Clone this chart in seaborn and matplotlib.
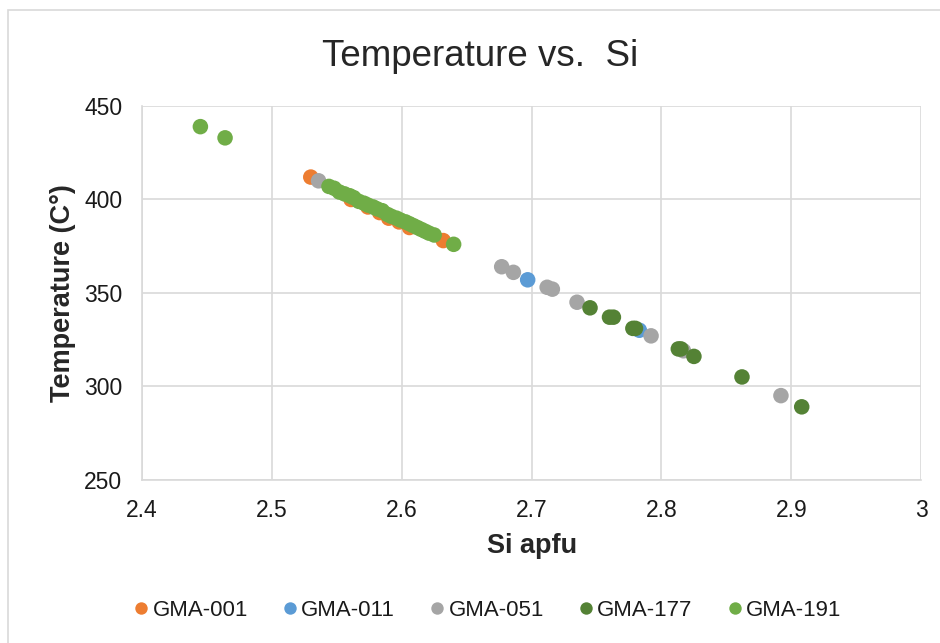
import pandas as pd
import matplotlib.pyplot as plt
import seaborn as sns
from matplotlib.patches import Rectangle

# values
si_001 = [2.530, 2.561, 2.574, 2.583, 2.590, 2.598, 2.606, 2.632]
t_001 = [412, 400, 396, 393, 390, 388, 385, 378]

si_011 = [2.697, 2.783]
t_011 = [357, 330]

si_051 = [2.536, 2.677, 2.686, 2.712, 2.716, 2.735, 2.792, 2.817, 2.892]
t_051 = [410, 364, 361, 353, 352, 345, 327, 319, 295]

si_177 = [2.745, 2.760, 2.763, 2.778, 2.780, 2.813, 2.815, 2.825, 2.862, 2.908]
t_177 = [342, 337, 337, 331, 331, 320, 320, 316, 305, 289]

si_191 = [2.445, 2.464, 2.544, 2.548, 2.552, 2.556, 2.560, 2.563, 2.567,
          2.571, 2.574, 2.578, 2.581, 2.585, 2.589, 2.592, 2.596, 2.599,
          2.603, 2.606, 2.609, 2.612, 2.615, 2.618, 2.621, 2.625, 2.640]
t_191 = [439, 433, 407, 406, 404, 403, 402, 401, 399,
         398, 397, 396, 395, 394, 392, 391, 390, 389,
         388, 387, 386, 385, 384, 383, 382, 381, 376]

samples = ['GMA-001', 'GMA-011', 'GMA-051', 'GMA-177', 'GMA-191']
colors = ['#ED7D31', '#5B9BD5', '#A5A5A5', '#548235', '#70AD47']

frames = []
for name, xs, ys in zip(samples,
                        [si_001, si_011, si_051, si_177, si_191],
                        [t_001, t_011, t_051, t_177, t_191]):
    frames.append(pd.DataFrame({'Si': xs, 'T': ys, 'Sample': name}))
df = pd.concat(frames, ignore_index=True)

sns.set_style('white')
plt.rcParams['font.family'] = ['Liberation Sans', 'DejaVu Sans']

fig = plt.figure(figsize=(9.4, 6.43), dpi=100)
ax = fig.add_axes([0.151, 0.254, 0.829, 0.581])

sns.scatterplot(data=df, x='Si', y='T', hue='Sample', hue_order=samples,
                palette=colors, s=125, linewidth=0, alpha=1, ax=ax, zorder=3)

ax.set_xlim(2.4, 3.0)
ax.set_ylim(250, 450)
ax.set_xticks([2.4, 2.5, 2.6, 2.7, 2.8, 2.9, 3.0])
ax.set_xticklabels(['2.4', '2.5', '2.6', '2.7', '2.8', '2.9', '3'])
ax.set_yticks([250, 300, 350, 400, 450])
ax.grid(True, color='#D9D9D9', linewidth=1.2)
ax.set_axisbelow(True)
for side in ['top', 'right']:
    ax.spines[side].set_visible(False)
for side in ['left', 'bottom']:
    ax.spines[side].set_color('#D9D9D9')
    ax.spines[side].set_linewidth(1.2)
ax.tick_params(axis='both', labelsize=16.5, colors='#1a1a1a', length=0)
ax.tick_params(axis='x', pad=14)
ax.tick_params(axis='y', pad=14)

ax.set_xlabel('Si apfu', fontsize=19.5, fontweight='bold', labelpad=8)
ax.set_ylabel('Temperature (C°)', fontsize=19.5, fontweight='bold', labelpad=6)
fig.text(0.511, 0.912, 'Temperature vs.  Si', fontsize=26.5, ha='center', va='center')

handles, labels = ax.get_legend_handles_labels()
leg = ax.legend(handles, labels, loc='center', bbox_to_anchor=(0.518, 0.051),
                bbox_transform=fig.transFigure, ncol=5, frameon=False, fontsize=16,
                handlelength=0.8, handletextpad=0.1, columnspacing=1.5,
                markerscale=0.8)
for t in leg.get_texts():
    t.set_color('#1a1a1a')

# chart area border
fig.patches.append(Rectangle((8 / 940, -0.01), 1.0, 1 - 10 / 643 + 0.01,
                             transform=fig.transFigure, fill=False,
                             edgecolor='#D9D9D9', linewidth=1.2))

fig.savefig('out.png', dpi=100)
